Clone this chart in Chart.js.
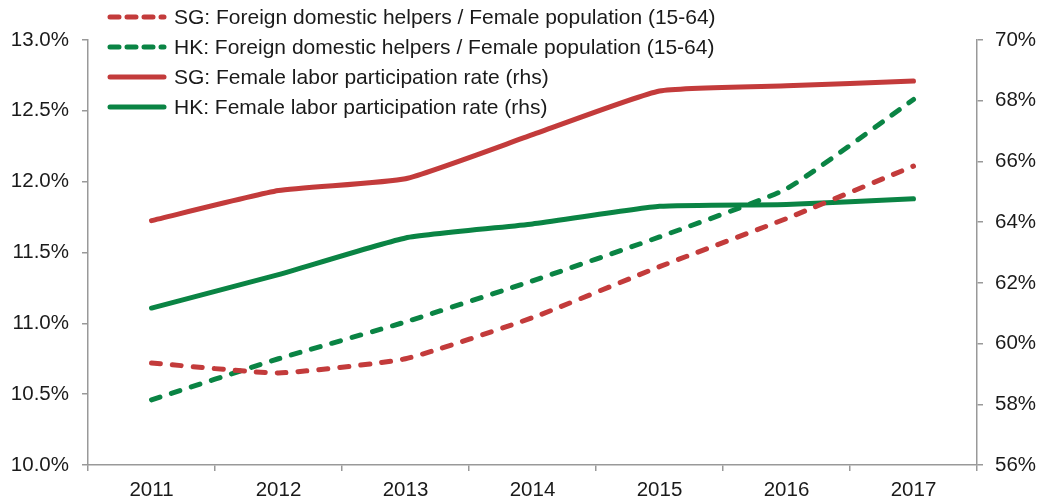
<!DOCTYPE html>
<html><head><meta charset="utf-8">
<script src="https://cdn.jsdelivr.net/npm/chart.js@4/dist/chart.umd.min.js"></script>
<style>
html,body{margin:0;padding:0;background:#fff;}
#wrap{position:relative;width:1052px;height:504px;}
#legend{position:absolute;left:107px;top:2px;font-family:"Liberation Sans",Arial,sans-serif;font-size:21px;color:#1a1a1a;}
.row{height:30px;display:flex;align-items:center;}
.row svg{margin-right:7px;}
</style></head>
<body><div id="wrap"><canvas id="c" width="1052" height="504"></canvas><div id="legend"></div></div>
<script>
const years = ['2011','2012','2013','2014','2015','2016','2017'];
const sgHelpers = [10.72, 10.65, 10.75, 11.04, 11.40, 11.74, 12.11];
const hkHelpers = [10.46, 10.75, 11.01, 11.30, 11.61, 11.95, 12.58];
const sgFLPR = [64.05, 65.04, 65.43, 66.88, 68.32, 68.49, 68.65];
const hkFLPR = [61.17, 62.27, 63.48, 63.94, 64.52, 64.58, 64.77];
const seriesNames = ['SG: Foreign domestic helpers / Female population (15-64)','HK: Foreign domestic helpers / Female population (15-64)','SG: Female labor participation rate (rhs)','HK: Female labor participation rate (rhs)'];
const RED = '#C33B3B', GREEN = '#0A8444';
const AXIS = '#999999';
const font = {family:'"Liberation Sans", Arial, sans-serif', size:20.5};

const mk = (label, data, color, dashed, axis) => ({
  label, data, borderColor: color, backgroundColor: color, yAxisID: axis,
  borderWidth: 5, borderDash: dashed ? [9, 12] : [], borderCapStyle: 'round', borderJoinStyle:'round',
  pointRadius: 0, tension: 0.15, fill:false
});

new Chart(document.getElementById('c'), {
  type: 'line',
  data: { labels: years, datasets: [
    mk(seriesNames[0], sgHelpers, RED, true, 'y'),
    mk(seriesNames[1], hkHelpers, GREEN, true, 'y'),
    mk(seriesNames[2], sgFLPR, RED, false, 'y1'),
    mk(seriesNames[3], hkFLPR, GREEN, false, 'y1')
  ]},
  options: {
    responsive:false, animation:false, devicePixelRatio:1,
    layout:{padding:{top:40}},
    plugins:{legend:{display:false}, tooltip:{enabled:false}},
    scales:{
      x:{ offset:true, afterFit:s=>{s.height=39;},
        grid:{display:true, drawOnChartArea:false, offset:true, tickLength:6, color:AXIS, lineWidth:1.5},
        border:{color:AXIS, width:1.5},
        ticks:{font, color:'#1a1a1a', padding:7, maxRotation:0}},
      y:{ position:'left', min:10, max:13, afterFit:s=>{s.width=88;},
        grid:{drawOnChartArea:false, tickLength:6, color:AXIS, lineWidth:1.5},
        border:{color:AXIS, width:1.5},
        ticks:{font, color:'#1a1a1a', stepSize:0.5, padding:13, callback:v=>v.toFixed(1)+'%'}},
      y1:{ position:'right', min:56, max:70, afterFit:s=>{s.width=75;},
        grid:{drawOnChartArea:false, tickLength:6, color:AXIS, lineWidth:1.5},
        border:{color:AXIS, width:1.5},
        ticks:{font, color:'#1a1a1a', stepSize:2, padding:12, callback:v=>v.toFixed(0)+'%'}}
    }
  }
});

const leg = document.getElementById('legend');
[[RED,true],[GREEN,true],[RED,false],[GREEN,false]].forEach(([c,d],i)=>{
  const r=document.createElement('div'); r.className='row';
  r.innerHTML=`<svg width="60" height="10"><line x1="3" y1="5" x2="57" y2="5" stroke="${c}" stroke-width="5" stroke-linecap="round" ${d?'stroke-dasharray="9 8"':''}/></svg><span>${seriesNames[i]}</span>`;
  leg.appendChild(r);
});
</script></body></html>
